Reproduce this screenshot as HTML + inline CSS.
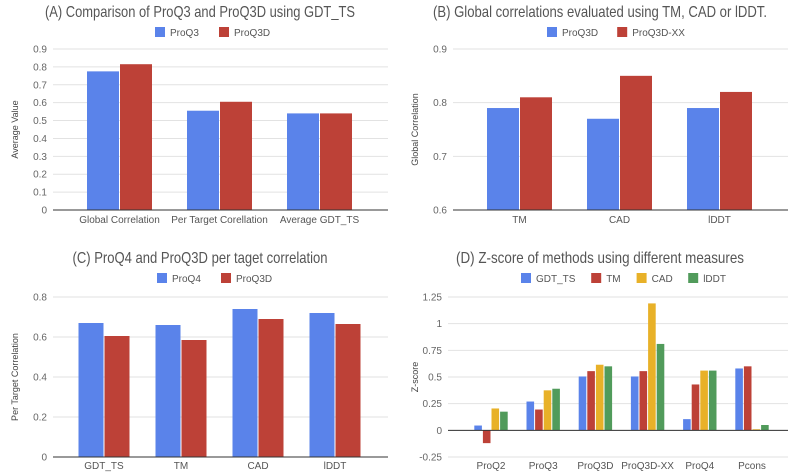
<!DOCTYPE html>
<html><head><meta charset="utf-8"><style>
html,body{margin:0;padding:0;background:#fff;}
svg{display:block;font-family:"Liberation Sans",sans-serif;}
</style></head><body>
<svg id="s" width="800" height="473" viewBox="0 0 800 473"></svg>
<script>
const aCats=["Global Correlation","Per Target Corellation","Average GDT_TS"];
const aProQ3=[0.775,0.555,0.54];
const aProQ3D=[0.815,0.605,0.54];
const aTicks=[0,0.1,0.2,0.3,0.4,0.5,0.6,0.7,0.8,0.9];
const bCats=["TM","CAD","lDDT"];
const bProQ3D=[0.79,0.77,0.79];
const bProQ3DXX=[0.81,0.85,0.82];
const bTicks=[0.6,0.7,0.8,0.9];
const cCats=["GDT_TS","TM","CAD","lDDT"];
const cProQ4=[0.67,0.66,0.74,0.72];
const cProQ3D=[0.605,0.585,0.69,0.665];
const cTicks=[0,0.2,0.4,0.6,0.8];
const dCats=["ProQ2","ProQ3","ProQ3D","ProQ3D-XX","ProQ4","Pcons"];
const dGDT=[0.045,0.27,0.505,0.505,0.105,0.58];
const dTM=[-0.12,0.195,0.555,0.555,0.43,0.6];
const dCAD=[0.205,0.375,0.615,1.19,0.56,0.01];
const dLDDT=[0.175,0.39,0.6,0.81,0.56,0.05];
const dTicks=[-0.25,0,0.25,0.5,0.75,1,1.25];

const NS="http://www.w3.org/2000/svg";
const svg=document.getElementById('s');
function el(tag,attrs,parent,text){const e=document.createElementNS(NS,tag);for(const k in attrs)e.setAttribute(k,attrs[k]);if(text!==undefined)e.textContent=text;(parent||svg).appendChild(e);return e;}
const BLUE="#5a83ea",RED="#bd4137",YEL="#e8b128",GRN="#519b5b";

function chart(o){
  const g=el('g',{},svg);
  
  
  const t=el('text',{x:o.titleX,y:o.titleY,'font-size':16,fill:'#555','text-anchor':'middle',textLength:o.titleW,lengthAdjust:'spacingAndGlyphs'},g,o.title);
  
  
  let lx=o.legX;
  o.series.forEach((s)=>{
    const r=el('rect',{x:lx,y:o.legY-5,width:10,height:10,fill:s.color},g);
    
    
    const lt=el('text',{x:lx+15,y:o.legY+4,'font-size':10,fill:'#555'},g,s.name);
    
    
    lx+=15+s.name.length*6.2+18;
  });
  const y=v=>o.y0+(v-o.vmin)/(o.vmax-o.vmin)*(o.y1-o.y0);
  o.ticks.forEach(v=>{
    const ln=el('line',{x1:o.gx0,x2:o.gx1,y1:y(v),y2:y(v),stroke:'#e2e2e2','stroke-width':1},g);
    
    
    const tl=el('text',{x:o.gx0-6,y:y(v)+3.5,'font-size':10,fill:'#666','text-anchor':'end'},g,String(v));
    
    
  });
  const ns=o.series.length;
  o.cats.forEach((c,i)=>{
    const cx=o.c0+i*o.step;
    const gw=ns*o.bw+(ns-1)*o.gap;
    o.series.forEach((s,j)=>{
      const v=s.vals[i];
      const bx=cx-gw/2+j*(o.bw+o.gap);
      const base=y(Math.max(o.vmin,0)),top=y(v);
      const r=el('rect',{x:bx,y:Math.min(base,top),width:o.bw,height:Math.abs(base-top),fill:s.color},g);
      
      
    });
    const cl=el('text',{x:cx,y:o.labY,'font-size':10,fill:'#555','text-anchor':'middle'},g,c);
    
    
  });
  const zy=y(Math.max(o.vmin,0));
  const ax=el('line',{x1:o.gx0,x2:o.gx1,y1:zy,y2:zy,stroke:'#333','stroke-width':1},g);
  
  
  const my=(o.y0+o.y1)/2;
  const at=el('text',{x:o.axX,y:my,'font-size':9,fill:'#444','text-anchor':'middle',transform:'rotate(-90 '+o.axX+' '+my+')'},g,o.axTitle);
  
  
}

chart({name:'chart-a',title:'(A) Comparison of ProQ3 and ProQ3D using GDT_TS',titleX:200,titleY:17,titleW:310,legX:155,legY:32,
 series:[{name:'ProQ3',vals:aProQ3,color:BLUE},{name:'ProQ3D',vals:aProQ3D,color:RED}],
 cats:aCats,ticks:aTicks,vmin:0,vmax:0.9,y0:210,y1:49,gx0:53,gx1:388,c0:119.5,step:100,bw:32,gap:1,labY:223,axX:18,axTitle:'Average Value'});
chart({name:'chart-b',title:'(B) Global correlations evaluated using TM, CAD or lDDT.',titleX:600,titleY:17,titleW:334,legX:547,legY:32,
 series:[{name:'ProQ3D',vals:bProQ3D,color:BLUE},{name:'ProQ3D-XX',vals:bProQ3DXX,color:RED}],
 cats:bCats,ticks:bTicks,vmin:0.6,vmax:0.9,y0:210,y1:49,gx0:453,gx1:788,c0:519.5,step:100,bw:32,gap:1,labY:223,axX:418,axTitle:'Global Correlation'});
chart({name:'chart-c',title:'(C) ProQ4 and ProQ3D per taget correlation',titleX:200,titleY:263,titleW:255,legX:157,legY:278,
 series:[{name:'ProQ4',vals:cProQ4,color:BLUE},{name:'ProQ3D',vals:cProQ3D,color:RED}],
 cats:cCats,ticks:cTicks,vmin:0,vmax:0.8,y0:457,y1:297,gx0:53,gx1:388,c0:104,step:77,bw:25,gap:1,labY:469,axX:18,axTitle:'Per Target Correlation'});
chart({name:'chart-d',title:'(D) Z-score of methods using different measures',titleX:600,titleY:263,titleW:288,legX:521,legY:278,
 series:[{name:'GDT_TS',vals:dGDT,color:BLUE},{name:'TM',vals:dTM,color:RED},{name:'CAD',vals:dCAD,color:YEL},{name:'lDDT',vals:dLDDT,color:GRN}],
 cats:dCats,ticks:dTicks,vmin:-0.25,vmax:1.25,y0:457,y1:297,gx0:448,gx1:788,c0:491,step:52.2,bw:7.6,gap:1,labY:469,axX:418,axTitle:'Z-score'});
</script>
</body></html>
